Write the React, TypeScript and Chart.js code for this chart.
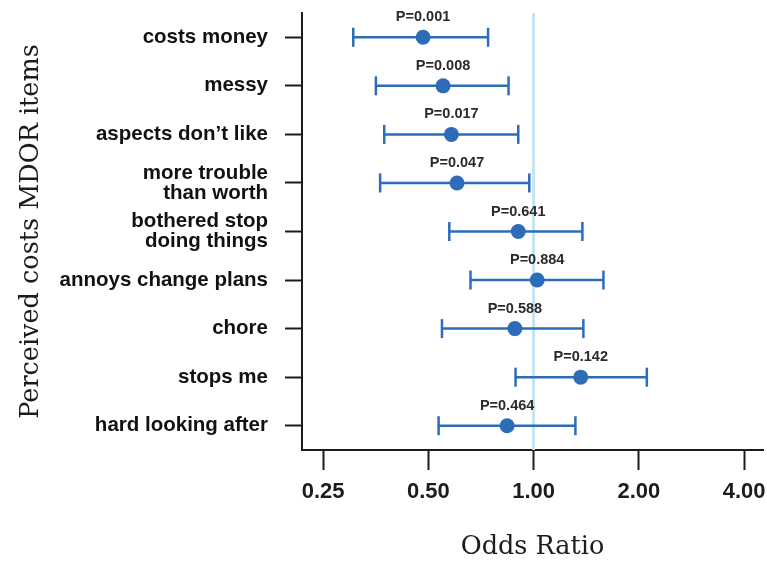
import React, { useEffect, useRef } from 'react';
import { Chart, registerables } from 'chart.js';

Chart.register(...registerables);

const categories: (string | string[])[] = [
  'costs money',
  'messy',
  'aspects don’t like',
  ['more trouble', 'than worth'],
  ['bothered stop', 'doing things'],
  'annoys change plans',
  'chore',
  'stops me',
  'hard looking after',
];
const oddsRatio = [0.483, 0.551, 0.582, 0.604, 0.904, 1.024, 0.884, 1.364, 0.84];
const ciLow = [0.305, 0.354, 0.374, 0.364, 0.574, 0.66, 0.547, 0.888, 0.535];
const ciHigh = [0.741, 0.848, 0.904, 0.972, 1.379, 1.584, 1.388, 2.108, 1.317];
const pValues = ['0.001', '0.008', '0.017', '0.047', '0.641', '0.884', '0.588', '0.142', '0.464'];
const xTicks = [0.25, 0.5, 1, 2, 4];
const refValue = 1;

const BLUE = '#2d6cb7';
const INK = '#1c1c1c';
const SANS = '"Liberation Sans", Arial, sans-serif';
const SERIF = '"DejaVu Serif", serif';

export default function App() {
  const ref = useRef<HTMLCanvasElement | null>(null);

  useEffect(() => {
    if (!ref.current) return;

    const refLine = {
      id: 'refLine',
      beforeDatasetsDraw(chart: any) {
        const { ctx, chartArea } = chart;
        const x = chart.scales.x.getPixelForValue(refValue);
        ctx.save();
        ctx.strokeStyle = '#c4e4f1';
        ctx.lineWidth = 3;
        ctx.beginPath();
        ctx.moveTo(x, chartArea.top);
        ctx.lineTo(x, chartArea.bottom);
        ctx.stroke();
        ctx.restore();
      },
    };

    const pLabels = {
      id: 'pLabels',
      afterDatasetsDraw(chart: any) {
        const { ctx } = chart;
        const meta = chart.getDatasetMeta(0);
        ctx.save();
        ctx.font = `bold 14.5px ${SANS}`;
        ctx.fillStyle = '#2a2a2a';
        ctx.textAlign = 'center';
        ctx.textBaseline = 'middle';
        meta.data.forEach((el: any, i: number) => {
          ctx.fillText('P=' + pValues[i], el.x, el.y - 20);
        });
        ctx.restore();
      },
    };

    const ciDatasets = categories.map((_, i) => ({
      data: [
        { x: ciLow[i], y: i },
        { x: ciHigh[i], y: i },
      ],
      showLine: true,
      borderColor: BLUE,
      borderWidth: 2.5,
      pointStyle: 'line',
      rotation: 90,
      pointRadius: 9.5,
      pointBorderWidth: 2.5,
      pointBorderColor: BLUE,
      pointBackgroundColor: BLUE,
      order: 1,
    }));

    const chart = new Chart(ref.current, {
      type: 'scatter',
      data: {
        datasets: [
          {
            data: oddsRatio.map((v, i) => ({ x: v, y: i })),
            backgroundColor: BLUE,
            borderColor: BLUE,
            pointRadius: 7.5,
            pointBorderWidth: 0,
            order: 0,
          },
          ...ciDatasets,
        ],
      },
      options: {
        animation: false,
        responsive: true,
        maintainAspectRatio: false,
        layout: { padding: { top: 13, right: 4, left: 0, bottom: 0 } },
        plugins: {
          legend: { display: false },
          tooltip: { enabled: false },
        },
        scales: {
          x: {
            type: 'logarithmic',
            min: 0.2176,
            max: 4.53,
            afterBuildTicks: (scale: any) => {
              scale.ticks = xTicks.map((v) => ({ value: v }));
            },
            afterFit: (scale: any) => {
              scale.height = 113;
              scale.paddingLeft = 0;
              scale.paddingRight = 0;
            },
            ticks: {
              callback: (v: any) => Number(v).toFixed(2),
              font: { family: SANS, size: 22, weight: 'bold' },
              color: INK,
              padding: 9,
              autoSkip: false,
              maxRotation: 0,
            },
            grid: {
              drawOnChartArea: false,
              drawTicks: true,
              tickLength: 20,
              tickColor: INK,
              tickWidth: 2,
            },
            border: { display: true, color: INK, width: 2 },
            title: {
              display: true,
              text: 'Odds Ratio',
              font: { family: SERIF, size: 25.5, lineHeight: 1.2 },
              color: INK,
              padding: { top: 1, bottom: 0 },
            },
          },
          y: {
            type: 'linear',
            reverse: true,
            min: -0.5,
            max: categories.length - 0.5,
            afterBuildTicks: (scale: any) => {
              scale.ticks = categories.map((_, i) => ({ value: i }));
            },
            afterFit: (scale: any) => {
              scale.width = 302;
              scale.paddingTop = 0;
              scale.paddingBottom = 0;
            },
            ticks: {
              callback: (v: any) => categories[Math.round(Number(v))],
              font: { family: SANS, size: 20.5, weight: 'bold', lineHeight: 0.98 },
              color: '#111',
              padding: 17,
              autoSkip: false,
            },
            grid: {
              drawOnChartArea: false,
              drawTicks: true,
              tickLength: 17,
              tickColor: INK,
              tickWidth: 2,
            },
            border: { display: true, color: INK, width: 2 },
            title: {
              display: true,
              text: 'Perceived costs MDOR items',
              font: { family: SERIF, size: 25.5, lineHeight: 1.2 },
              color: INK,
              padding: { top: 16, bottom: 0 },
            },
          },
        },
      } as any,
      plugins: [refLine, pLabels],
    });

    return () => chart.destroy();
  }, []);

  return (
    <div style={{ position: 'fixed', left: 0, top: 0, width: 775, height: 563, background: '#fff' }}>
      <canvas ref={ref} />
    </div>
  );
}
